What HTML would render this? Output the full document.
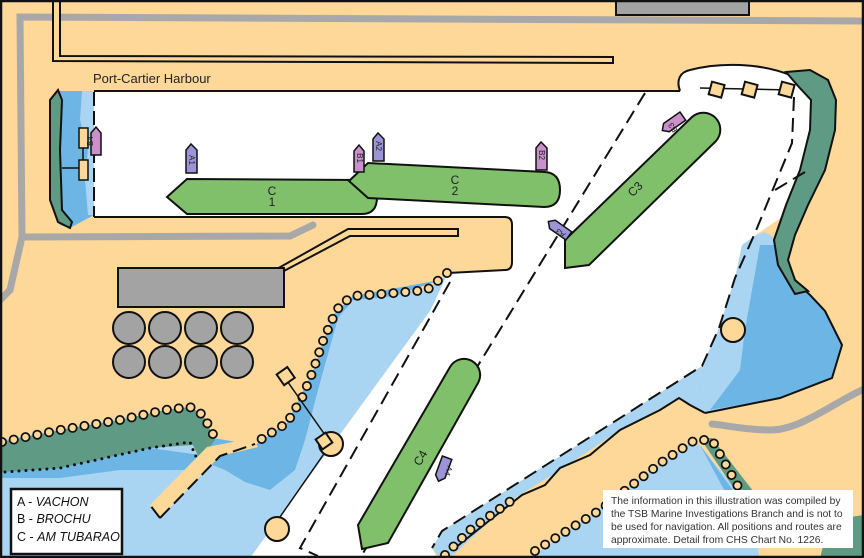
<!DOCTYPE html>
<html><head><meta charset="utf-8"><style>
html,body{margin:0;padding:0;background:#fff}
svg{display:block}
text{font-family:"Liberation Sans",sans-serif}
</style></head><body>
<svg width="864" height="558" viewBox="0 0 864 558" xmlns="http://www.w3.org/2000/svg">
<rect x="0" y="0" width="864" height="558" fill="#FDD899"/>
<rect x="616" y="-2" width="133" height="17" fill="#A3A3A3" stroke="#111" stroke-width="2"/>
<path d="M864,21 L20,17 L22,237 L10,290 L0,300" fill="none" stroke="#A8A8A8" stroke-width="7"/>
<path d="M24,237 L290,236 L313,225" fill="none" stroke="#A8A8A8" stroke-width="7" stroke-linecap="round"/>
<path d="M862,390 C830,405 800,430 770,430 C745,430 725,425 712,424" fill="none" stroke="#A8A8A8" stroke-width="7" stroke-linecap="round"/>
<path d="M53,0 L53,61 L613,63 L613,57 L60,56 L60,0" fill="#FDD899" stroke="#111" stroke-width="2"/>
<path d="M275,270 L348,229 L458,229 L458,236 L350,236 L282,272" fill="#FDD899" stroke="#111" stroke-width="2"/>

<path d="M450,272 L427,290 L353,296 L333,315 L313,371 L287,423 L255,445 L218,450 L190,410 L120,418 L60,430 L0,440 L0,558 L250,558 L430,311 Z" fill="#A9D5F3"/>
<path d="M440,280 L395,296 L353,300 L338,318 L318,390 L305,440 L295,470 L270,490 L245,482 L225,470 L205,462 L190,470 L120,470 L60,478 L0,478 L0,470 L60,468 L150,448 L200,455 L213,438 L255,445 L287,423 L313,371 L333,315 L353,296 Z" fill="#6DB5E5"/>
<path d="M0,442 L60,430 L120,420 L165,410 L190,407 L203,415 L215,440 L200,460 L193,445 L150,448 L60,468 L0,472 Z" fill="#5F9A84"/>
<path d="M5,472 L60,468 L150,448 L190,442 L195,455 L200,462" fill="none" stroke="#111" stroke-width="3" stroke-dasharray="0 7" stroke-linecap="round"/>
<path d="M150,505 L207,447 L253,438 L258,447 L220,456 L160,518 Z" fill="#FDD899"/>
<path d="M160,518 L150,505 M160,518 L220,456 L255,444" fill="none" stroke="#111" stroke-width="2" stroke-dasharray="14 6"/>

<path d="M742,240 L765,232 L785,245 L792,278 L810,295 L825,311 L842,345 L832,378 L780,398 L705,413 L702,366 L719,328 L735,278 Z" fill="#A9D5F3"/>
<path d="M760,245 L785,245 L792,278 L810,295 L825,311 L842,345 L832,378 L780,398 L710,410 L740,370 L745,330 L752,290 Z" fill="#6DB5E5"/>
<path d="M792,278 L810,295 L825,311 L842,345 L832,378 L780,398 L705,413" fill="none" stroke="#111" stroke-width="2"/>
<path d="M702,366 L442,531 L432,548 L440,558 L450,558 L515,498 L560,470 L620,430 L679,398 L705,413 Z" fill="#A9D5F3"/>
<path d="M455,548 L490,520 L522,495 L545,485 L560,468 L590,455 L620,430 L650,415 L660,410 L679,398 L690,405 L705,413" fill="none" stroke="#111" stroke-width="2"/>
<path d="M695,440 L745,500 L760,558 L530,558 Z" fill="#A9D5F3"/>
<path d="M700,438 L712,438 L760,500 L752,515 Z" fill="#5F9A84"/>
<path d="M700,445 L740,500 L745,512 L735,510 Z" fill="#6DB5E5"/>
<path d="M830,520 L864,515 L864,558 L820,558 Z" fill="#5F9A84"/>

<path d="M94,91 L680,91 C676,80 680,72 690,70 C720,62 760,63 790,75 L812,100 L818,130 L805,175 L785,215 L760,232 L742,245 L735,278 L719,328 L702,366 L442,531 L432,548 L437,558 L250,558 L430,311 L448,273 L505,270 Q512,270 512,262 L512,225 Q512,217 505,217 L94,217 Z" fill="#fff"/>
<path d="M94,91 L680,91 M680,91 C676,80 680,72 690,70 C720,62 760,63 790,75 M448,273 L505,270 Q512,270 512,262 L512,225 Q512,217 505,217 L94,217" fill="none" stroke="#111" stroke-width="2"/>
<path d="M700,88 L790,90" stroke="#111" stroke-width="1.5"/>
<path d="M786,72 L810,70 L828,80 L836,100 L835,130 L825,170 L808,205 L795,235 L788,260 L795,280 L808,291 L795,294 L778,265 L774,240 L786,205 L800,170 L810,130 L811,100 L798,86 Z" fill="#5F9A84" stroke="#111" stroke-width="2"/>
<path d="M94,91 L58,91 L52,100 L50,200 L60,225 L70,228 L94,215 Z" fill="#6DB5E5"/>
<path d="M82,91 L94,91 L94,215 L88,215 L85,180 L88,150 L80,120 Z" fill="#A9D5F3"/>
<path d="M58,90 L50,100 L50,200 L58,222 L70,228 L72,222 L62,210 L60,150 L62,100 Z" fill="#5F9A84" stroke="#111" stroke-width="2"/>
<path d="M94,92 L94,217" stroke="#111" stroke-width="2" stroke-dasharray="14 5"/>
<rect x="79" y="128" width="9" height="20" fill="#FDD899" stroke="#111" stroke-width="1.5"/>
<rect x="79" y="160" width="9" height="20" fill="#FDD899" stroke="#111" stroke-width="1.5"/>
<path d="M83,148 L83,160 M62,168 L79,168" stroke="#111" stroke-width="1.5"/>

<g fill="none" stroke="#111" stroke-width="2" stroke-dasharray="14 7">
<path d="M645,93 L360,558"/>
<path d="M450,282 L300,548 L318,556"/>
<path d="M794,97 L792,143 L755,233 L735,278 L719,328 L702,366 L442,531 L432,548"/>
<path d="M805,172 L775,190"/>
</g>

<g fill="none" stroke-linecap="round" stroke-dasharray="0 12">
<g stroke="#111" stroke-width="10">
<path d="M447,273 L427,290 L395,293 L353,296 L340,305 L333,318 L323,341 L313,371 L302,398 L287,423 L260,440"/>
<path d="M2,442 L60,430 L120,420 L165,410 L190,407 L203,415 L216,440"/>
<path d="M445,555 L470,530 L515,498"/>
<path d="M535,551 L600,510 L662,462 L695,440 L712,440 L740,490"/>
</g>
<g stroke="#FDD899" stroke-width="6.5">
<path d="M447,273 L427,290 L395,293 L353,296 L340,305 L333,318 L323,341 L313,371 L302,398 L287,423 L260,440"/>
<path d="M2,442 L60,430 L120,420 L165,410 L190,407 L203,415 L216,440"/>
<path d="M445,555 L470,530 L515,498"/>
<path d="M535,551 L600,510 L662,462 L695,440 L712,440 L740,490"/>
</g></g>

<rect x="118" y="268" width="166" height="39" fill="#A3A3A3" stroke="#111" stroke-width="2"/>
<g fill="#A3A3A3" stroke="#111" stroke-width="2">
<circle cx="129" cy="328" r="16"/><circle cx="165" cy="328" r="16"/><circle cx="201" cy="328" r="16"/><circle cx="237" cy="328" r="16"/>
<circle cx="129" cy="362" r="16"/><circle cx="165" cy="362" r="16"/><circle cx="201" cy="362" r="16"/><circle cx="237" cy="362" r="16"/>
</g>
<path d="M285,378 L330,442 M328,448 L273,527" stroke="#111" stroke-width="1.5"/>
<circle cx="331" cy="444" r="12" fill="#FDD899" stroke="#111" stroke-width="2"/>
<circle cx="277" cy="529" r="12" fill="#FDD899" stroke="#111" stroke-width="2"/>
<rect x="279" y="370" width="13" height="13" transform="rotate(-35 285 376)" fill="#FDD899" stroke="#111" stroke-width="2"/>
<rect x="318" y="435" width="12" height="12" transform="rotate(-35 324 441)" fill="#FDD899" stroke="#111" stroke-width="2"/>
<circle cx="733" cy="330" r="12" fill="#FDD899" stroke="#111" stroke-width="2"/>
<g fill="#FDD899" stroke="#111" stroke-width="2">
<rect x="710" y="83" width="13" height="13" transform="rotate(15 716 90)"/>
<rect x="743" y="83" width="13" height="13" transform="rotate(15 749 90)"/>
<rect x="780" y="83" width="13" height="13" transform="rotate(15 786 90)"/>
</g>

<g fill="#80C06B" stroke="#111" stroke-width="2">
<path d="M167,197 L187,179 L362,180 Q377,181 377,197 Q377,214 362,214 L187,214 Z"/>
<path d="M349,181 L368,163 L545,172 Q560,173 560,190 Q560,207 544,207 L368,198 Z"/>
<path d="M565,240 L692,117 A17 17 0 0 1 716,141 L589,265 L565,268 Z"/>
<path d="M358,525 L450,367 A16 16 0 0 1 478,383 L388,543 L362,549 Z"/>
</g>
<g font-size="12" fill="#222" text-anchor="middle">
<text x="272" y="195">C</text><text x="272" y="206">1</text>
<text x="455" y="184">C</text><text x="455" y="195">2</text>
<text transform="translate(638,192) rotate(-45)">C3</text>
<text transform="translate(424,460) rotate(-60)">C4</text>
</g>
<g stroke="#111" stroke-width="1.5">
<path d="M186,150 L191,144 L197,150 L197,173 L186,173 Z" fill="#9B94D8"/>
<path d="M354,151 L359,145 L364,151 L364,172 L354,172 Z" fill="#C990CB"/>
<path d="M373,139 L378,133 L384,139 L384,161 L373,161 Z" fill="#9B94D8"/>
<path d="M536,148 L541,142 L547,148 L547,170 L536,170 Z" fill="#C990CB"/>
<path d="M91,133 L96,127 L101,133 L101,155 L91,155 Z" fill="#C990CB"/>
<g transform="translate(673,123) rotate(-35)"><path d="M-13,0 L-8,-5 L12,-5 L12,5 L-8,5 Z" fill="#C990CB"/></g>
<g transform="translate(559,229) rotate(35)"><path d="M-13,0 L-8,-5 L12,-5 L12,5 L-8,5 Z" fill="#9B94D8"/></g>
<g transform="translate(443,469) rotate(-70)"><path d="M-13,0 L-8,-5 L12,-5 L12,5 L-8,5 Z" fill="#9B94D8"/></g>
</g>
<g font-size="8" fill="#222" text-anchor="middle">
<text transform="translate(189,160) rotate(90)">A1</text>
<text transform="translate(357,158) rotate(90)">B1</text>
<text transform="translate(376,146) rotate(90)">A2</text>
<text transform="translate(539,155) rotate(90)">B2</text>
<text transform="translate(93,141) rotate(-90)">B4</text>
<text transform="translate(675,126) rotate(-125)">B3</text>
<text transform="translate(562,231) rotate(-145)">A3</text>
<text transform="translate(446,470) rotate(110)">A4</text>
</g>

<text x="93" y="83" font-size="13" fill="#222">Port-Cartier Harbour</text>

<rect x="11" y="489" width="111" height="65" fill="#fff" stroke="#111" stroke-width="2.5"/>
<g font-size="12.5" fill="#111">
<text x="17" y="506">A - <tspan font-style="italic">VACHON</tspan></text>
<text x="17" y="523">B - <tspan font-style="italic">BROCHU</tspan></text>
<text x="17" y="541">C - <tspan font-style="italic">AM TUBARAO</tspan></text>
</g>
<rect x="603" y="490" width="250" height="58" fill="#fff"/>
<g font-size="10.3" fill="#333">
<text x="611" y="504">The information in this illustration was compiled by</text>
<text x="611" y="517">the TSB Marine Investigations Branch and is not to</text>
<text x="611" y="530">be used for navigation. All positions and routes are</text>
<text x="611" y="543">approximate. Detail from CHS Chart No. 1226.</text>
</g>
<rect x="1" y="1" width="862" height="556" fill="none" stroke="#111" stroke-width="2.5"/>
</svg>
</body></html>
